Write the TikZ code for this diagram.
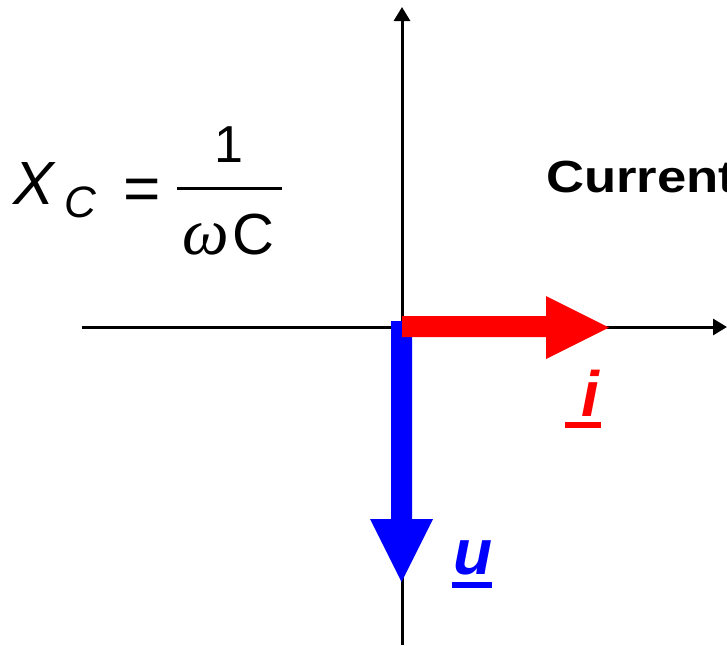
\documentclass[tikz,border=0pt]{standalone}
\usepackage{graphicx}
\usepackage{fontspec}
\setmainfont{Liberation Sans}
\newfontfamily\grk{Liberation Serif}
\usetikzlibrary{arrows.meta}
\begin{document}
\begin{tikzpicture}[x=1pt,y=-1pt,
  axis/.style={line width=3pt,-{Triangle[length=14pt,width=16pt]}},
  txt/.style={inner sep=0pt,anchor=base west},
]
\useasboundingbox (0,0) rectangle (727,645);
% axes
\coordinate (hl) at (82,327);
\coordinate (hr) at (727,327);
\coordinate (vb) at (402,645);
\coordinate (vt) at (402,7);
\draw[axis] (hl) -- (hr);
\draw[axis] (vb) -- (vt);
% voltage phasor (blue)
\coordinate (ut) at (401.5,582);
\fill[blue] (391,321) -- (412,321) -- (412,519) -- (433,519) -- (ut) -- (370,519) -- (391,519) -- cycle;
% current phasor (red)
\coordinate (it) at (609,327.5);
\fill[red] (402,316) -- (546,316) -- (546,296) -- (it) -- (546,359) -- (546,337) -- (402,337) -- cycle;
% labels
\node[txt,text=red,font=\fontsize{64}{64}\selectfont\bfseries\itshape] (i) at (581,416) {i};
\fill[red] (565,422) rectangle (601,428);
\node[txt,text=blue,font=\fontsize{64}{64}\selectfont\bfseries\itshape] (u) at (453,574) {u};
\fill[blue] (452,582) rectangle (492,588);
\node[txt,font=\fontsize{45}{45}\selectfont\bfseries] (cur) at (546,192) {\scalebox{1.17}[1]{Current}};
% formula
\node[txt,font=\fontsize{61}{61}\selectfont\itshape] (X) at (13,204) {X};
\node[txt,font=\fontsize{44}{44}\selectfont\itshape] (Cs) at (64,217) {C};
\node[inner sep=0pt,anchor=base,font=\fontsize{64}{64}\selectfont] (eq) at (142,210) {=};
\node[txt,font=\fontsize{52}{52}\selectfont] (one) at (214,162) {1};
\coordinate (fl) at (177,188.5);
\coordinate (fr) at (282,188.5);
\draw[line width=3pt] (fl) -- (fr);
\node[txt,font=\fontsize{66}{66}\selectfont\grk\itshape] (w) at (182,254) {ω};
\node[txt,font=\fontsize{58}{58}\selectfont] (Cd) at (232,254) {C};
\end{tikzpicture}
\end{document}
